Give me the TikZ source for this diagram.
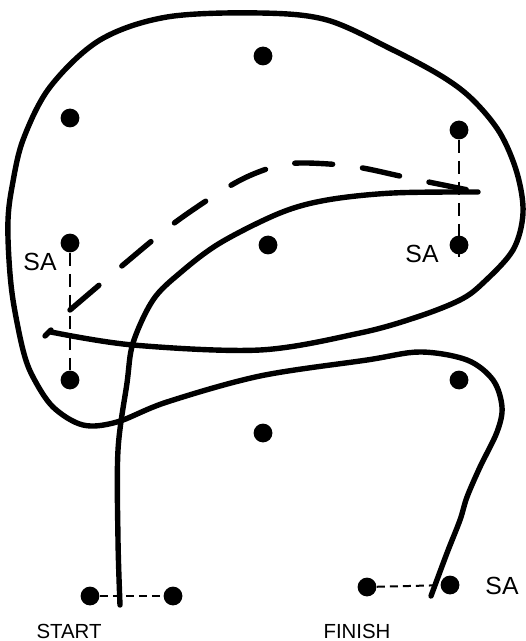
\documentclass[tikz,border=0pt]{standalone}
\usepackage{fontspec}
\setmainfont{Liberation Sans}
\usetikzlibrary{positioning, calc}

\begin{document}
\begin{tikzpicture}[
  x=0.5pt, y=-0.5pt,
  dot/.style={circle, fill=black, inner sep=0pt, minimum size=9.4pt},
  salabel/.style={font=\fontsize{12.4}{14}\selectfont, inner sep=0pt},
  endlabel/.style={font=\fontsize{10.2}{12}\selectfont, inner sep=0pt},
  path/.style={line width=2.7pt, line cap=round, line join=round},
  guess/.style={path, dash pattern=on 19pt off 15pt},
  sa/.style={line width=1pt, dash pattern=on 6.5pt off 4pt},
  pair/.style={line width=1pt, dash pattern=on 4pt off 2.5pt}
]
\useasboundingbox (0,0) rectangle (525,641);

% dots inside the loop
\node[dot] (top) at (263,56) {};
\node[dot] (upleft) at (70,118) {};
\node[dot] (upright) at (459,130) {};
\node[dot] (saleft) at (70,243) {};
\node[dot] (mid) at (268,245) {};
\node[dot] (saright) at (459,245) {};
\node[dot] (lowleft) at (70,380) {};
\node[dot] (lowright) at (459,380) {};
\node[dot] (low) at (263,433) {};

% start and finish pairs
\node[dot] (startL) at (90,596) {};
\node[dot] (startR) at (173,596) {};
\node[dot] (finL) at (367,587) {};
\node[dot] (finR) at (450,585) {};

% labels
\node[salabel] (saL) at (40,262) {SA};
\node[salabel] (saR) at (422,254) {SA};
\node[salabel] (saF) at (502,586) {SA};
\node[endlabel] (start) at (69,631) {START};
\node[endlabel] (finish) at (357,631) {FINISH};

% SA links
\draw[sa] (saleft) -- (lowleft);
\draw[sa] (upright) -- ([yshift=-6pt]saright.center);
\draw[pair] (startL) -- (startR);
\draw[pair] (finL) -- (finR);

\coordinate (tip) at (478,192);
\coordinate (begin) at (120,605);
\coordinate (kink) at (70,310);
\coordinate (hook) at (45,336);
\coordinate (end) at (431,596);

% solid path from start
\draw[path] plot[smooth, tension=0.55] coordinates {(begin) (118,540) (118,450) (127,383) (133,343) (153,300) (180,273) (220,243) (280,213) (327,200) (393,193) (tip)};

% dashed path
\draw[guess] plot[smooth, tension=0.55] coordinates {(kink) (123,265) (177,221) (235,183) (273,167) (300,163) (342,165) (368,169) (409,178) (tip)};

% long path to finish
\draw[path] (hook) -- ++(6,-6);
\draw[path] plot[smooth, tension=0.55] coordinates {(51,332) (133,345) (260,350) (360,333) (417,317) (460,300) (483,283) (513,250) (523,213) (517,173) (500,133) (473,100) (443,77) (393,50) (327,20) (260,13) (167,17) (100,40) (50,87) (23,140) (12,187) (8,220) (9,260) (13,300) (23,350) (33,377) (53,407) (83,425) (117,422) (167,402) (260,376) (367,360) (420,352) (467,360) (493,380) (502,407) (497,432) (480,467) (467,497) (460,520) (447,553) (end)};

\end{tikzpicture}
\end{document}
